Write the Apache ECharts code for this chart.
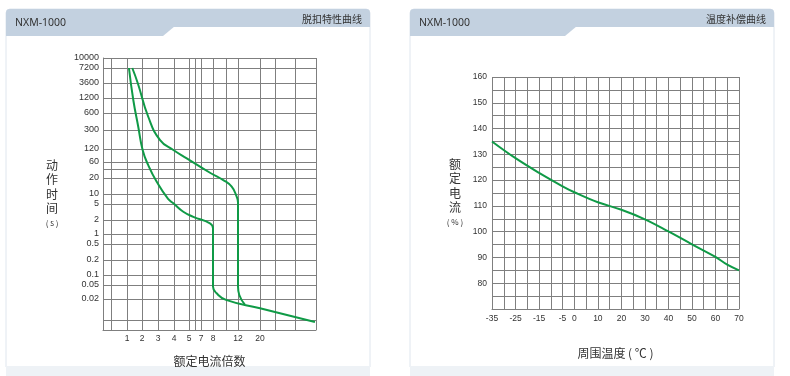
<!DOCTYPE html>
<html>
<head>
<meta charset="utf-8">
<script src="https://cdn.jsdelivr.net/npm/echarts@6/dist/echarts.min.js"></script>
<style>
html, body { margin: 0; padding: 0; background: #fff; }
#main { width: 790px; height: 376px; }
</style>
</head>
<body>
<div id="main"></div>
<script>
// 脱扣特性曲线: the drawing uses its own hand-spaced grid, so each axis is
// a list of tick values plus the grid unit where that line sits
var multTicks = [0, 0.5, 1, 2, 3, 4, 5, 6, 7, 8, 10, 12, 20, 30, 40, 50];
var multGrid = [0, 8, 24, 39, 55, 71, 86, 92, 98, 110, 123, 135, 157, 172, 192, 213];
var multLabels = [1, 2, 3, 4, 5, 7, 8, 12, 20];

var timeTicks = [10000, 7200, 3600, 1200, 600, 300, 120, 60, 40, 20, 10, 5, 2, 1, 0.5, 0.2, 0.1, 0.05, 0.02, 0.01, 0.005];
var timeGrid = [272, 262, 247, 232, 217, 200, 181, 168, 161, 152, 136, 126, 110, 96, 86, 70, 55, 45, 31, 10, 0];
var timeLabels = [10000, 7200, 3600, 1200, 600, 300, 120, 60, 20, 10, 5, 2, 1, 0.5, 0.2, 0.1, 0.05, 0.02];

// [倍数, 秒]
var curveLow = [[1.13, 7200], [1.42, 1094], [1.75, 343], [2.04, 114], [2.39, 50], [2.92, 17],
    [3.63, 7.1], [3.96, 5.25], [4.62, 3.2], [5.72, 2.4], [7.75, 1.7], [8.0, 1.33],
    [8.0, 0.045], [8.57, 0.029], [10, 0.0194], [20, 0.0147], [49.5, 0.0087]];
var curveHigh = [[1.35, 7200], [1.72, 3550], [2.39, 515], [3.13, 185], [3.96, 114], [4.85, 73],
    [7.75, 30], [9.58, 18.3], [10.95, 13.7], [11.78, 8.3], [12, 5.5],
    [12, 0.045], [12.47, 0.026], [14.5, 0.0166]];

// 温度补偿曲线
var temps = [-35, -25, -15, -5, 0, 10, 20, 30, 40, 50, 60, 65, 70];
var ratedPct = [135, 128.5, 122.8, 117.6, 115.3, 111.4, 108.5, 104.8, 100.1, 95.1, 90.2, 87.2, 85];
var tempLabels = [-35, -25, -15, -5, 0, 10, 20, 30, 40, 50, 60, 70];
var pctLabels = [80, 90, 100, 110, 120, 130, 140, 150, 160];

function interp(v, vals, pos, useLog) {
    var f = useLog ? Math.log10 : function (a) { return a; };
    var x = f(v);
    for (var i = 0; i < vals.length - 1; i++) {
        var a = f(vals[i]), b = f(vals[i + 1]);
        if ((x - a) * (x - b) <= 0) {
            return pos[i] + (x - a) / (b - a) * (pos[i + 1] - pos[i]);
        }
    }
    return pos[pos.length - 1];
}
function xPos(m) { return interp(m, multTicks, multGrid, false); }
function yPos(s) { return interp(s, timeTicks, timeGrid, true); }

function labelFor(list, toPos) {
    return function (v) {
        for (var i = 0; i < list.length; i++) {
            if (Math.abs(toPos(list[i]) - v) < 1e-6) return String(list[i]);
        }
        return '';
    };
}

var green = '#0f9a46';
var gridColor = '#7f7f7f';
var textColor = '#333';

var chart = echarts.init(document.getElementById('main'));

function card(x, w, notch, title, subtitle) {
    return [{
        type: 'rect', z: -10, silent: true,
        shape: { x: x, y: 9, width: w, height: 358, r: [4, 4, 0, 0] },
        style: { fill: '#fff', stroke: '#dfe6ee', lineWidth: 1 }
    }, {
        type: 'rect', z: -9, silent: true,
        shape: { x: x, y: 366, width: w, height: 10 },
        style: { fill: '#eef2f6' }
    }, {
        type: 'rect', z: -8, silent: true,
        shape: { x: x, y: 9, width: w, height: 18, r: [4, 4, 0, 0] },
        style: { fill: '#c3d1e0' }
    }, {
        type: 'polygon', z: -8, silent: true,
        shape: { points: [[x, 26], [x, 36], [x + notch, 36], [x + notch + 12, 26]] },
        style: { fill: '#c3d1e0' }
    }, {
        type: 'text', z: -7, silent: true,
        style: {
            text: title, x: x + 9, y: 23, textVerticalAlign: 'middle',
            font: '10.5px "Noto Sans"', fill: textColor
        }
    }, {
        type: 'text', z: -7, silent: true,
        style: {
            text: subtitle, x: x + w - 8, y: 19, textAlign: 'right', textVerticalAlign: 'middle',
            font: '10px "Noto Sans CJK SC"', fill: textColor
        }
    }];
}

var lineStyle = { color: gridColor, width: 1 };
var nameStyle = {
    color: textColor, fontSize: 12, fontFamily: 'Noto Sans CJK SC'
};
var vertName = {
    color: textColor, fontSize: 12, fontFamily: 'Noto Sans CJK SC',
    align: 'center', verticalAlign: 'middle', lineHeight: 14.5,
    rich: { u: { fontSize: 8, color: textColor, fontFamily: 'Noto Sans CJK SC', lineHeight: 14 } }
};

option = {
    backgroundColor: '#fff',
    animation: false,
    graphic: card(6, 364, 157, 'NXM-1000', '脱扣特性曲线').concat(card(410, 364, 155, 'NXM-1000', '温度补偿曲线')),
    grid: [
        { left: 103, top: 58, width: 213, height: 272 },
        { left: 492, top: 77, width: 247, height: 232 }
    ],
    xAxis: [{
        gridIndex: 0, type: 'value', min: 0, max: 213,
        name: '额定电流倍数', nameLocation: 'middle', nameGap: 25,
        nameTextStyle: nameStyle,
        axisLine: { lineStyle: lineStyle },
        axisTick: { show: false, customValues: multGrid },
        splitLine: { show: true, lineStyle: lineStyle },
        axisLabel: {
            customValues: multLabels.map(xPos),
            formatter: labelFor(multLabels, xPos),
            color: textColor, fontSize: 8.5, fontFamily: 'Liberation Sans', margin: 4
        }
    }, {
        gridIndex: 1, type: 'value', min: -35, max: 70, interval: 5,
        name: '周围温度 ( ℃ )', nameLocation: 'middle', nameGap: 38,
        nameTextStyle: nameStyle,
        axisLine: { lineStyle: lineStyle },
        axisTick: { show: false },
        splitLine: { show: true, lineStyle: lineStyle },
        axisLabel: {
            customValues: tempLabels,
            color: textColor, fontSize: 8.5, fontFamily: 'Liberation Sans', margin: 5
        }
    }],
    yAxis: [{
        gridIndex: 0, type: 'value', min: 0, max: 272,
        name: '动\n作\n时\n间\n{u|( s )}', nameLocation: 'middle', nameRotate: 0, nameGap: 51,
        nameTextStyle: vertName,
        axisLine: { show: true, lineStyle: lineStyle },
        axisTick: { show: false, customValues: timeGrid },
        splitLine: { show: true, lineStyle: lineStyle },
        axisLabel: {
            customValues: timeLabels.map(yPos),
            formatter: labelFor(timeLabels, yPos),
            color: textColor, fontSize: 9, fontFamily: 'Liberation Sans', margin: 4
        }
    }, {
        gridIndex: 1, type: 'value', min: 70, max: 160, interval: 5,
        name: '额\n定\n电\n流\n{u|( % )}', nameLocation: 'middle', nameRotate: 0, nameGap: 37,
        nameTextStyle: vertName,
        axisLine: { show: true, lineStyle: lineStyle },
        axisTick: { show: false },
        splitLine: { show: true, lineStyle: lineStyle },
        axisLabel: {
            customValues: pctLabels,
            color: textColor, fontSize: 8.5, fontFamily: 'Liberation Sans', margin: 5
        }
    }],
    series: [{
        type: 'line', xAxisIndex: 0, yAxisIndex: 0,
        showSymbol: false, smooth: 0.5,
        lineStyle: { color: green, width: 2 },
        data: curveLow.map(function (p) { return [xPos(p[0]), yPos(p[1])]; })
    }, {
        type: 'line', xAxisIndex: 0, yAxisIndex: 0,
        showSymbol: false, smooth: 0.5,
        lineStyle: { color: green, width: 2 },
        data: curveHigh.map(function (p) { return [xPos(p[0]), yPos(p[1])]; })
    }, {
        type: 'line', xAxisIndex: 1, yAxisIndex: 1,
        showSymbol: false, smooth: 0.4,
        lineStyle: { color: green, width: 2 },
        data: temps.map(function (t, i) { return [t, ratedPct[i]]; })
    }]
};
chart.setOption(option);
</script>
</body>
</html>
